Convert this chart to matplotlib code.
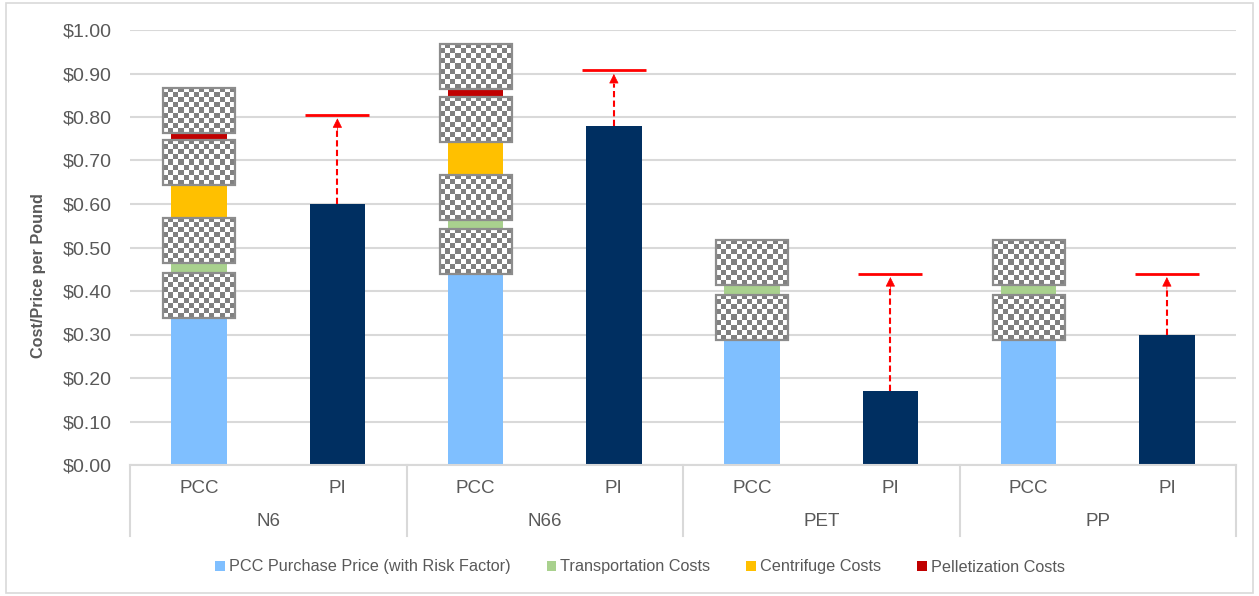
import numpy as np
import matplotlib
matplotlib.use("Agg")
import matplotlib.pyplot as plt
from matplotlib import font_manager
from matplotlib.patches import Patch, Rectangle
from matplotlib.ticker import StrMethodFormatter
import matplotlib.transforms as mtransforms

# resin groups, each with a PCC cost stack and a PI price bar
groups = ["N6", "N66", "PET", "PP"]
sub_labels = ["PCC", "PI"]

purchase = [0.39, 0.49, 0.34, 0.34]
transport = [0.125, 0.125, 0.125, 0.125]
centrifuge = [0.18, 0.18, 0.0, 0.0]
pelletization = [0.12, 0.12, 0.0, 0.0]

pi_price = [0.60, 0.78, 0.17, 0.30]
pi_target = [0.805, 0.907, 0.44, 0.44]

series_names = ["PCC Purchase Price (with Risk Factor)", "Transportation Costs",
                "Centrifuge Costs", "Pelletization Costs"]
series_colors = ["#7FBFFF", "#A9D18E", "#FFC000", "#C00000"]
navy = "#002F61"
red = "#FF0000"
grey_text = "#595959"
grid_col = "#D9D9D9"

plt.rcParams["font.family"] = ["Liberation Sans", "DejaVu Sans"]
names = {f.name for f in font_manager.fontManager.ttflist}
if "Liberation Sans Narrow" in names:
    legend_font = {"family": "Liberation Sans Narrow", "size": 14}
else:
    legend_font = {"family": "Liberation Sans", "size": 11.7}

fig = plt.figure(figsize=(12.59, 5.96), dpi=100)
ax = fig.add_axes([130 / 1259, 1 - 465 / 596, 1106 / 1259, 435 / 596])

n = len(groups)
pcc_x = np.arange(n) * 2 + 0.5
pi_x = pcc_x + 1
bar_w = 0.4

# stacked PCC costs
stacks = [purchase, transport, centrifuge, pelletization]
bottom = np.zeros(n)
tops = []
for vals, col in zip(stacks, series_colors):
    vals = np.array(vals)
    ax.bar(pcc_x, vals, bar_w, bottom=bottom, color=col, zorder=2)
    bottom = bottom + vals
    tops.append((bottom.copy(), vals > 0))

# checkered boxes over each segment boundary
box_w = 0.52
box_h = 0.1035
checks = (np.indices((9, 14)).sum(axis=0) % 2).astype(float)
check_cmap = matplotlib.colors.ListedColormap(["white", "#808080"])
for top, present in tops:
    for xc, yc, ok in zip(pcc_x, top, present):
        if not ok:
            continue
        ext = [xc - box_w / 2, xc + box_w / 2, yc - box_h / 2, yc + box_h / 2]
        ax.imshow(checks, cmap=check_cmap, extent=ext, aspect="auto",
                  interpolation="nearest", zorder=4)
        ax.add_patch(Rectangle((ext[0], ext[2]), box_w, box_h, fill=False,
                               edgecolor="#8C8C8C", lw=1.6, zorder=5))

# PI bars with dashed arrow up to target price
ax.bar(pi_x, pi_price, bar_w, color=navy, zorder=2)
gap = 0.008
head = 0.028
for xc, base, target in zip(pi_x, pi_price, pi_target):
    ax.hlines(target, xc - 0.232, xc + 0.232, color=red, lw=2, zorder=3)
    ax.vlines(xc, base, target - gap - head + 0.004, color=red, lw=1.5,
              linestyles=(0, (3, 1.6)), zorder=3)
    ax.annotate("", xy=(xc, target - gap), xytext=(xc, target - gap - head),
                arrowprops=dict(arrowstyle="-|>", color=red, lw=0.5,
                                mutation_scale=15, shrinkA=0, shrinkB=0),
                zorder=3)

ax.set_xlim(0, 2 * n)
ax.set_ylim(0, 1.0)
ax.set_yticks(np.arange(0, 1.01, 0.1))
ax.yaxis.set_major_formatter(StrMethodFormatter("${x:.2f}"))
ax.tick_params(axis="y", length=0, pad=13, labelsize=14, labelcolor=grey_text)
ax.set_xticks([])
ax.grid(axis="y", color=grid_col, lw=1.5, zorder=0)
ax.set_axisbelow(True)
for side in ["top", "right", "left"]:
    ax.spines[side].set_visible(False)
ax.spines["bottom"].set_color(grid_col)
ax.spines["bottom"].set_linewidth(1.5)

# two-level category axis
trans = mtransforms.blended_transform_factory(ax.transData, ax.transAxes)
for xb in range(0, 2 * n + 1, 2):
    ax.plot([xb, xb], [0, -0.163], transform=trans, color=grid_col, lw=1.5,
            clip_on=False)
for i, g in enumerate(groups):
    for xc, lab in zip([pcc_x[i], pi_x[i]], sub_labels):
        ax.text(xc, -0.053, lab, transform=trans, ha="center", va="center",
                fontsize=13.5, color=grey_text)
    ax.text(pcc_x[i] + 0.5, -0.131, g, transform=trans, ha="center",
            va="center", fontsize=13.5, color=grey_text)

fig.text(39 / 1259, 1 - 276 / 596, "Cost/Price per Pound", rotation=90,
         ha="center", va="center", fontsize=11.7, fontweight="bold",
         color=grey_text)

handles = [Patch(facecolor=c, edgecolor="none") for c in series_colors]
leg = fig.legend(handles, series_names, loc="center",
                 bbox_to_anchor=(640 / 1259, 1 - 567 / 596), ncol=4,
                 frameon=False, prop=legend_font, handlelength=0.6,
                 handleheight=0.6, handletextpad=0.25, columnspacing=2.2)
for t in leg.get_texts():
    t.set_color(grey_text)

fig.patches.append(Rectangle((6 / 1259, 3 / 596), 1247 / 1259, 590 / 596,
                             transform=fig.transFigure, fill=False,
                             edgecolor=grid_col, lw=1.2))

fig.savefig("out.png", dpi=100)
